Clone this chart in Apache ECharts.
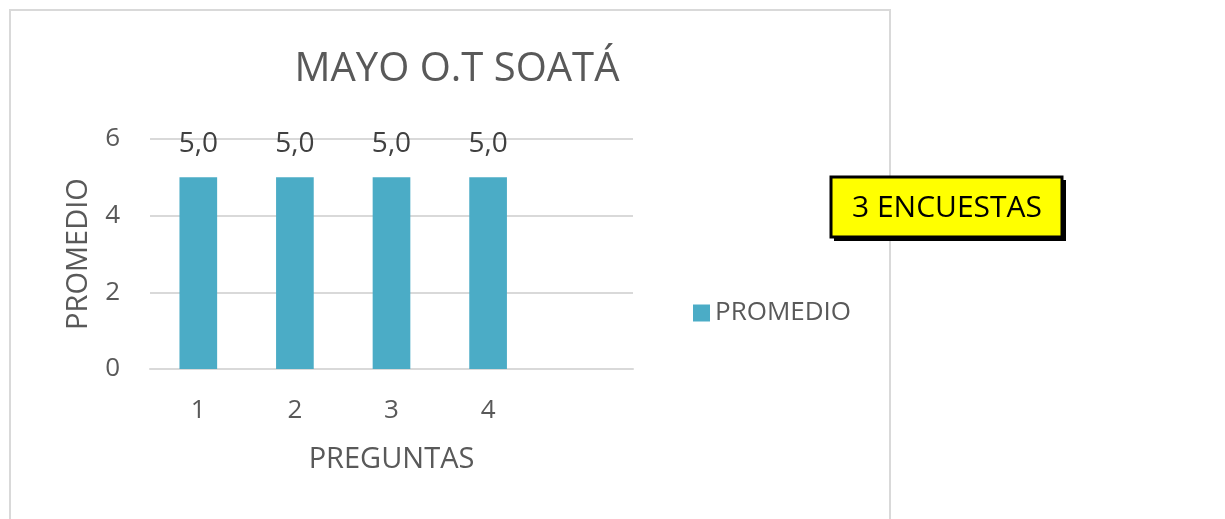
<!DOCTYPE html>
<html>
<head>
<meta charset="utf-8">
<script src="https://cdn.jsdelivr.net/npm/echarts@6/dist/echarts.min.js"></script>
<style>
  html, body { margin: 0; padding: 0; background: #fff; }
  #chart { width: 1225px; height: 519px; }
</style>
</head>
<body>
<div id="chart"></div>
<script>
const preguntas = ['1', '2', '3', '4', '']
const promedio = [5.0, 5.0, 5.0, 5.0, null]
const yTicks = [0, 2, 4, 6]

const font = '"Open Sans", "Noto Sans", sans-serif'
const chart = echarts.init(document.getElementById('chart'))

chart.setOption({
  animation: false,
  title: {
    text: 'MAYO O.T SOATÁ',
    left: 452,
    top: 45,
    textAlign: 'center',
    textStyle: { fontFamily: font, fontSize: 40, fontWeight: 'normal', color: '#595959' }
  },
  legend: {
    data: ['PROMEDIO'],
    left: 688,
    top: 295,
    icon: 'rect',
    itemWidth: 17,
    itemHeight: 17,
    itemGap: 8,
    textStyle: { fontFamily: font, fontSize: 26, color: '#595959' }
  },
  grid: { left: 150, right: 1225 - 633, top: 139, bottom: 519 - 369, containLabel: false },
  xAxis: {
    type: 'category',
    data: preguntas,
    name: 'PREGUNTAS',
    nameLocation: 'middle',
    nameGap: 76,
    nameTextStyle: { fontFamily: font, fontSize: 29, color: '#595959' },
    axisLine: { lineStyle: { color: '#d9d9d9', width: 2 } },
    axisTick: { show: false },
    axisLabel: { fontFamily: font, fontSize: 26, color: '#595959', margin: 29 }
  },
  yAxis: {
    type: 'value',
    min: yTicks[0],
    max: yTicks[yTicks.length - 1],
    interval: 2,
    name: 'PROMEDIO',
    nameLocation: 'middle',
    nameGap: 57,
    nameTextStyle: { fontFamily: font, fontSize: 29, color: '#595959' },
    axisLine: { show: false },
    axisTick: { show: false },
    splitLine: { lineStyle: { color: '#d9d9d9', width: 2 } },
    axisLabel: { fontFamily: font, fontSize: 26, color: '#595959', margin: 30 }
  },
  series: [{
    name: 'PROMEDIO',
    type: 'bar',
    data: promedio,
    barWidth: '39%',
    itemStyle: { color: '#4bacc6' },
    label: {
      show: true,
      position: 'top',
      distance: 19,
      fontFamily: font,
      fontSize: 28,
      color: '#404040',
      formatter: p => p.value == null ? '' : p.value.toFixed(1).replace('.', ',')
    }
  }],
  graphic: [
    {
      type: 'rect',
      shape: { x: 10, y: 10, width: 880, height: 530 },
      style: { fill: 'none', stroke: '#d9d9d9', lineWidth: 2 },
      silent: true
    },
    {
      type: 'rect',
      shape: { x: 834, y: 180, width: 232, height: 61 },
      style: { fill: '#000' },
      silent: true
    },
    {
      type: 'rect',
      shape: { x: 831, y: 177, width: 231, height: 60 },
      style: { fill: '#ffff00', stroke: '#000', lineWidth: 3 },
      silent: true
    },
    {
      type: 'text',
      x: 947,
      y: 208,
      style: {
        text: '3 ENCUESTAS',
        fontFamily: font,
        fontSize: 30,
        fill: '#000',
        align: 'center',
        verticalAlign: 'middle'
      },
      silent: true
    }
  ]
})
</script>
</body>
</html>
